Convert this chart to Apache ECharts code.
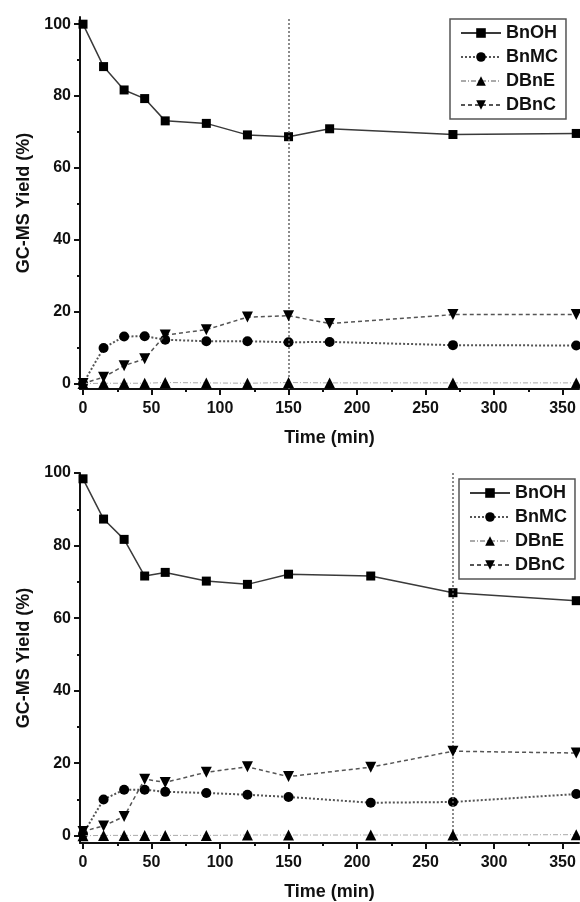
<!DOCTYPE html>
<html>
<head>
<meta charset="utf-8">
<script src="https://cdn.jsdelivr.net/npm/echarts@6/dist/echarts.min.js"></script>
<style>
  html, body { margin: 0; background: #fff; }
  #main { width: 580px; height: 902px; }
</style>
</head>
<body>
<div id="main"></div>
<script>
var seriesNames = ['BnOH', 'BnMC', 'DBnE', 'DBnC'];

// upper panel
var timeA = [0, 15, 30, 45, 60, 90, 120, 150, 180, 270, 360];
var bnohA = [100, 88.2, 81.7, 79.3, 73.1, 72.4, 69.2, 68.7, 70.9, 69.3, 69.6];
var bnmcA = [0, 9.9, 13.1, 13.2, 12.2, 11.8, 11.8, 11.5, 11.6, 10.7, 10.6];
var dbneA = [0, 0.1, 0.1, 0.1, 0.3, 0.2, 0.1, 0.3, 0.2, 0.2, 0.2];
var dbncA = [0, 1.8, 5.0, 6.9, 13.5, 15.0, 18.5, 18.9, 16.7, 19.2, 19.2];
var markA = 150;

// lower panel
var timeB = [0, 15, 30, 45, 60, 90, 120, 150, 210, 270, 360];
var bnohB = [98.4, 87.3, 81.7, 71.6, 72.6, 70.2, 69.3, 72.1, 71.6, 67.0, 64.8];
var bnmcB = [0.5, 10.0, 12.7, 12.7, 12.1, 11.8, 11.3, 10.7, 9.1, 9.3, 11.5];
var dbneB = [0, 0.1, 0.1, 0.1, 0.1, 0.1, 0.2, 0.2, 0.2, 0.2, 0.3];
var dbncB = [1.2, 2.7, 5.3, 15.6, 14.7, 17.5, 19.0, 16.3, 18.9, 23.3, 22.8];
var markB = 270;

var xTicks = [0, 50, 100, 150, 200, 250, 300, 350];
var xMinor = [25, 75, 125, 175, 225, 275, 325];
var yTicks = [0, 20, 40, 60, 80, 100];
var yMinor = [10, 30, 50, 70, 90];

var font = '"Liberation Sans", Arial, sans-serif';
var ink = '#111';

// marker + line look of each series
var looks = [
  { symbol: 'rect', size: 9, rotate: 0, line: { type: 'solid', color: '#3a3a3a', width: 1.5 } },
  { symbol: 'circle', size: 10, rotate: 0, line: { type: 'dotted', color: '#555', width: 2 } },
  { symbol: 'triangle', size: 11, rotate: 0, line: { type: [5, 2, 1, 2], color: '#aaa', width: 1 } },
  { symbol: 'triangle', size: 11, rotate: 180, line: { type: [4, 3], color: '#555', width: 1.5 } }
];

var option = {
  animation: false,
  backgroundColor: '#fff',
  grid: [
    { left: 80, top: 17, width: 499, height: 372 },
    { left: 80, top: 473, width: 499, height: 373 }
  ],
  legend: [],
  xAxis: [],
  yAxis: [],
  series: []
};

function pairs(time, vals) {
  return time.map(function (t, k) { return [t, vals[k]]; });
}

function addPanel(g, time, lists, mark, yRange, legendPos) {
  var xa = option.xAxis.length, ya = option.yAxis.length;

  option.xAxis.push({
    gridIndex: g, type: 'value', min: -2.2, max: 362, position: 'bottom',
    name: 'Time (min)', nameLocation: 'middle', nameGap: 40,
    nameTextStyle: { fontFamily: font, fontSize: 18, fontWeight: 'bold', color: ink },
    axisLine: { onZero: false, lineStyle: { color: ink, width: 2 } },
    axisTick: { customValues: xTicks, length: 6, lineStyle: { color: ink, width: 2 } },
    axisLabel: { customValues: xTicks, margin: 12, fontFamily: font, fontSize: 16, fontWeight: 'bold', color: ink },
    splitLine: { show: false }
  }, {
    gridIndex: g, type: 'value', min: -2.2, max: 362, position: 'bottom',
    axisLine: { show: false, onZero: false },
    axisTick: { customValues: xMinor, length: 3, lineStyle: { color: ink, width: 2 } },
    axisLabel: { show: false },
    splitLine: { show: false }
  });

  option.yAxis.push({
    gridIndex: g, type: 'value', min: yRange[0], max: yRange[1], position: 'left',
    name: 'GC-MS Yield (%)', nameLocation: 'middle', nameGap: 44,
    nameTextStyle: { fontFamily: font, fontSize: 18, fontWeight: 'bold', color: ink },
    axisLine: { onZero: false, lineStyle: { color: ink, width: 2 } },
    axisTick: { customValues: yTicks, length: 6, lineStyle: { color: ink, width: 2 } },
    axisLabel: { customValues: yTicks, margin: 9, fontFamily: font, fontSize: 16, fontWeight: 'bold', color: ink },
    splitLine: { show: false }
  }, {
    gridIndex: g, type: 'value', min: yRange[0], max: yRange[1], position: 'left',
    axisLine: { show: false, onZero: false },
    axisTick: { customValues: yMinor, length: 3, lineStyle: { color: ink, width: 2 } },
    axisLabel: { show: false },
    splitLine: { show: false }
  });

  lists.forEach(function (vals, i) {
    var lk = looks[i];
    var s = {
      name: seriesNames[i], type: 'line', xAxisIndex: xa, yAxisIndex: ya,
      data: pairs(time, vals), clip: false,
      symbol: lk.symbol, symbolSize: lk.size, symbolRotate: lk.rotate,
      itemStyle: { color: '#000' },
      lineStyle: lk.line,
      z: 3 + i
    };
    if (i === 0) {
      s.markLine = {
        silent: true, symbol: 'none', label: { show: false },
        lineStyle: { type: [2, 2], color: '#666', width: 1.5 },
        data: [{ xAxis: mark }]
      };
    }
    option.series.push(s);
  });

  option.legend.push({
    data: seriesNames, orient: 'vertical',
    left: legendPos[0], top: legendPos[1],
    borderColor: '#555', borderWidth: 1.5, padding: [5, 8, 5, 10],
    itemWidth: 40, itemHeight: 12, itemGap: 6,
    textStyle: { fontFamily: font, fontSize: 18, fontWeight: 'bold', color: ink }
  });
}

addPanel(0, timeA, [bnohA, bnmcA, dbneA, dbncA], markA, [-1.5, 102], [450, 19]);
addPanel(1, timeB, [bnohB, bnmcB, dbneB, dbncB], markB, [-2, 100], [459, 479]);

var myChart = echarts.init(document.getElementById('main'));
myChart.setOption(option);
</script>
</body>
</html>
